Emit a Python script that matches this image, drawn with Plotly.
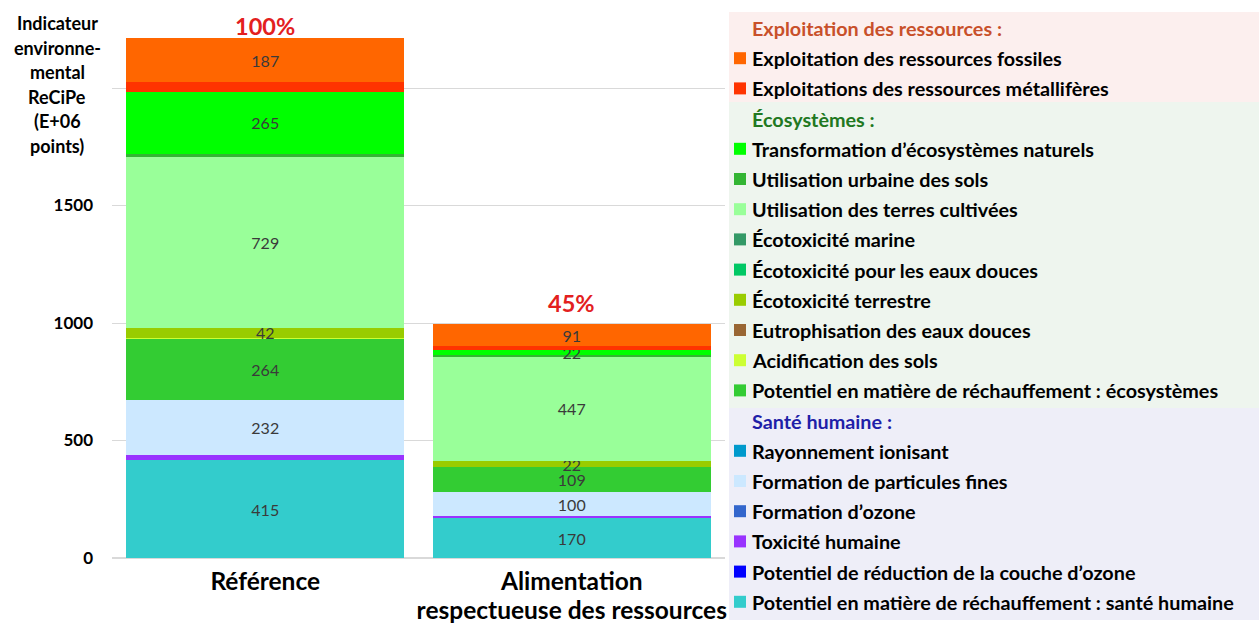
import plotly.graph_objects as go

# ---------------- data ----------------
categories = ["Référence", "Alimentation respectueuse des ressources"]
category_lines = [["Référence"], ["Alimentation", "respectueuse des ressources"]]

# legend order (top to bottom); stacking is the reverse
series_names = [
    "Exploitation des ressources fossiles",
    "Exploitations des ressources métallifères",
    "Transformation d’écosystèmes naturels",
    "Utilisation urbaine des sols",
    "Utilisation des terres cultivées",
    "Écotoxicité marine",
    "Écotoxicité pour les eaux douces",
    "Écotoxicité terrestre",
    "Eutrophisation des eaux douces",
    "Acidification des sols",
    "Potentiel en matière de réchauffement : écosystèmes",
    "Rayonnement ionisant",
    "Formation de particules fines",
    "Formation d’ozone",
    "Toxicité humaine",
    "Potentiel de réduction de la couche d’ozone",
    "Potentiel en matière de réchauffement : santé humaine",
]
series_groups = [0, 0, 1, 1, 1, 1, 1, 1, 1, 1, 1, 2, 2, 2, 2, 2, 2]
ref_values = [187, 40, 265, 12, 729, 0, 0, 42, 0, 2, 264, 0, 232, 0, 24, 0, 415]
alt_values = [91, 17, 22, 6, 447, 0, 0, 22, 0, 1, 109, 0, 100, 0, 9, 0, 170]
labeled = [True, False, True, False, True, False, False, True, False, False, True,
           False, True, False, False, False, True]
series_colors = [
    "#FF6600", "#FF3300", "#00FF00", "#33B533", "#99FF99", "#339966", "#00C864",
    "#99CC00", "#996633", "#CCFF33", "#33CC33", "#0099CC", "#CCE8FF", "#3366CC",
    "#9933FF", "#0000FF", "#33CCCC",
]
group_titles = ["Exploitation des ressources :", "Écosystèmes :", "Santé humaine :"]
group_title_colors = ["#C8502A", "#217821", "#1F1FA8"]
group_band_colors = ["#FCEFEE", "#EEF5EE", "#EEEEF8"]

pct_labels = ["100%", "45%"]
y_tickvals = [0, 500, 1000, 1500, 2000]
y_ticktext = ["0", "500", "1000", "1500", ""]
y_title_lines = ["Indicateur", "environne-", "mental", "ReCiPe", "(E+06", "points)"]

# ---------------- layout geometry ----------------
W, H = 1259, 626
L, R, T, B = 112, 725, 30, 558
FONT = "Lato"
LEG_SIZE = 19.8


def xp(px):
    return (px - L) / (R - L)


def yp(py):
    return (B - py) / (B - T)


fig = go.Figure()

n = len(series_names)
for i in reversed(range(n)):
    vals = [ref_values[i], alt_values[i]]
    fig.add_trace(go.Bar(
        name=series_names[i],
        x=categories,
        y=vals,
        marker=dict(color=series_colors[i], line=dict(width=0)),
        text=[str(v) for v in vals] if labeled[i] else None,
        textposition="inside" if labeled[i] else "none",
        insidetextanchor="middle",
        textangle=0,
        textfont=dict(family=FONT, size=16, color="#3A3A3A"),
        hoverinfo="name+y",
    ))

totals = [sum(ref_values), sum(alt_values)]
annotations = []
pct_shift = [-4, 5]
for c, tot, lab, sh in zip(categories, totals, pct_labels, pct_shift):
    annotations.append(dict(
        x=c, y=tot, xref="x", yref="y", text=lab, showarrow=False,
        yanchor="bottom", yshift=sh,
        font=dict(family=FONT, size=23.5, color="#E3201E", weight="bold"),
    ))

# y-axis title, one line per annotation
for k, line in enumerate(y_title_lines):
    annotations.append(dict(
        x=xp(57), y=yp(23 + 24.6 * k), xref="paper", yref="paper",
        text=line, showarrow=False, xanchor="center", yanchor="middle",
        font=dict(family=FONT, size=18, color="black", weight="bold"),
    ))

# ---------------- custom legend ----------------
shapes = []
rows = []
for g in range(3):
    rows.append(("header", g))
    for i in range(n):
        if series_groups[i] == g:
            rows.append(("item", i))

row0, step = 28, 30.2
band_edges = [12, 102, 408, 620]
for g in range(3):
    shapes.append(dict(
        type="rect", xref="paper", yref="paper",
        x0=xp(729), x1=xp(W), y0=yp(band_edges[g + 1]), y1=yp(band_edges[g]),
        fillcolor=group_band_colors[g], line=dict(width=0), layer="below",
    ))

for r, (kind, idx) in enumerate(rows):
    cy = row0 + step * r
    if kind == "header":
        annotations.append(dict(
            x=xp(750), y=yp(cy), xref="paper", yref="paper",
            text=group_titles[idx], showarrow=False, xanchor="left", yanchor="middle",
            font=dict(family=FONT, size=LEG_SIZE, color=group_title_colors[idx], weight="bold"),
        ))
    else:
        shapes.append(dict(
            type="rect", xref="paper", yref="paper",
            x0=xp(734), x1=xp(746), y0=yp(cy + 6), y1=yp(cy - 6),
            fillcolor=series_colors[idx], line=dict(width=0),
        ))
        annotations.append(dict(
            x=xp(750), y=yp(cy), xref="paper", yref="paper",
            text=series_names[idx], showarrow=False, xanchor="left", yanchor="middle",
            font=dict(family=FONT, size=LEG_SIZE, color="black", weight="bold"),
        ))

cat_ticktext = ["<br>".join('<span style="font-size:24.5px">%s</span>' % s for s in lines)
                for lines in category_lines]

fig.update_layout(
    width=W, height=H, autosize=False,
    margin=dict(l=L, r=W - R, t=T, b=H - B, pad=0, autoexpand=False),
    barmode="stack", bargap=0.093,
    plot_bgcolor="white", paper_bgcolor="white",
    showlegend=False,
    font=dict(family=FONT, color="black"),
    uniformtext=dict(minsize=16, mode="show"),
    annotations=annotations,
    shapes=shapes,
    xaxis=dict(
        tickvals=categories, ticktext=cat_ticktext, automargin=False,
        tickfont=dict(family=FONT, size=22, color="black", weight="bold"),
        showgrid=False, showline=False, ticks="", ticklabelstandoff=9,
    ),
    yaxis=dict(
        range=[0, 2247], tickvals=y_tickvals, ticktext=y_ticktext, automargin=False,
        tickfont=dict(family=FONT, size=17, color="black", weight="bold"),
        gridcolor="#D9D9D9", gridwidth=1, zeroline=True, zerolinecolor="#D9D9D9",
        showline=False, ticks="", ticklabelstandoff=18,
    ),
)

fig.write_html("out.html")
